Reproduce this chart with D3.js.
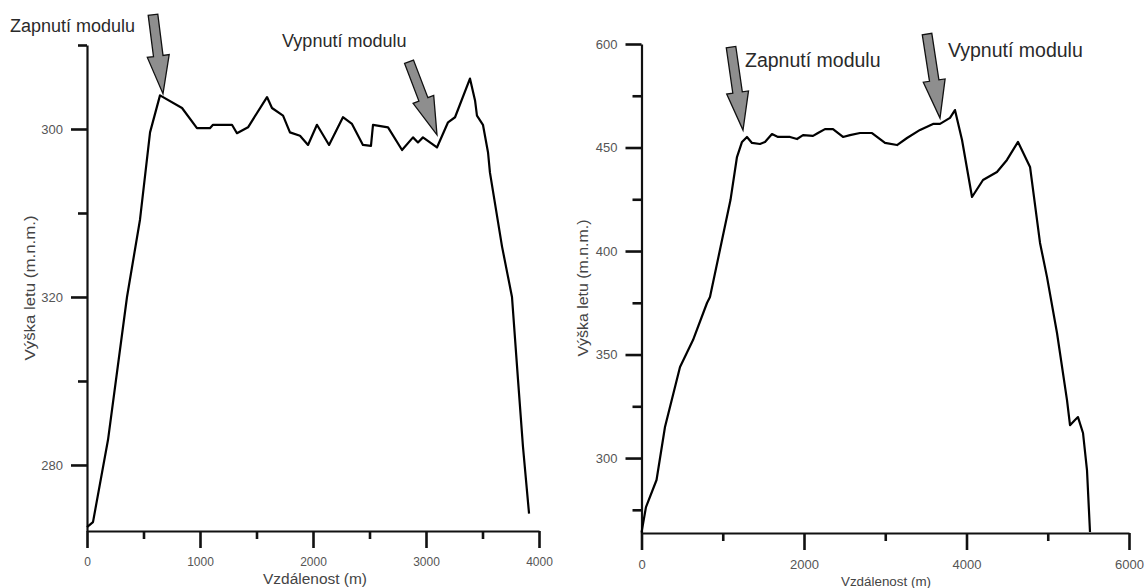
<!DOCTYPE html>
<html>
<head>
<meta charset="utf-8">
<script src="https://cdn.jsdelivr.net/npm/d3@7/dist/d3.min.js"></script>
<style>
  body { margin: 0; background: #fff; }
  svg { display: block; font-family: "Liberation Sans", Arial, sans-serif; }
</style>
</head>
<body>
<script>
// left profile: distance (m) and flight altitude
var leftDist = [0, 53, 186, 354, 469, 558, 646, 841, 973, 1088, 1115, 1283, 1327, 1425,
    1593, 1637, 1735, 1796, 1885, 1956, 2035, 2142, 2265, 2345, 2442, 2513, 2531, 2664,
    2788, 2885, 2929, 2973, 3097, 3195, 3257, 3389, 3434, 3451, 3504, 3549, 3566, 3673,
    3761, 3814, 3858, 3912];
var leftAlt = [276.3, 276.6, 281.5, 290.0, 294.6, 299.8, 302.0, 301.25, 300.05, 300.05, 300.25, 300.25, 299.75, 300.1,
    301.9, 301.25, 300.8, 299.8, 299.6, 299.05, 300.25, 299.05, 300.7, 300.3, 299.05, 299.0, 300.25, 300.1,
    298.75, 299.5, 299.2, 299.5, 298.9, 300.4, 300.7, 303.0, 301.7, 300.8, 300.25, 298.6, 297.4, 293.0,
    290.0, 285.1, 281.1, 277.1];

// right profile
var rightDist = [0, 55, 185, 289, 474, 634, 806, 843, 991, 1095, 1175, 1237, 1298, 1360, 1458, 1520,
    1606, 1680, 1828, 1914, 1988, 2111, 2172, 2258, 2357, 2480, 2566, 2689, 2837, 2997, 3145, 3268,
    3428, 3588, 3674, 3797, 3858, 3945, 4068, 4203, 4375, 4498, 4634, 4782, 4905, 4991, 5114, 5237,
    5274, 5335, 5372, 5434, 5483, 5520];
var rightAlt = [264, 276.3, 289.4, 315.0, 344.0, 357.0, 374.9, 377.8, 405.3, 424.6, 445.4, 452.7, 455.1, 452.2, 451.7, 452.7,
    456.5, 455.1, 455.1, 454.1, 456.0, 455.6, 457.0, 458.9, 458.9, 455.1, 456.0, 457.0, 457.0, 452.2, 451.2, 454.6,
    458.5, 461.4, 461.4, 464.3, 468.1, 453.6, 426.1, 434.3, 438.2, 444.0, 452.7, 440.6, 403.9, 387.4, 360.4, 328.0,
    315.9, 318.4, 319.8, 312.1, 294.2, 264.3];

// ticks and labels (labels as printed in the original)
var leftXTicks = [0, 1000, 2000, 3000, 4000];
var leftXMinor = [500, 1500, 2500, 3500];
var leftYTicks = [300, 290, 280];
var leftYLabels = ["300", "320", "280"];
var leftYMinor = [305, 295, 285];

var rightXTicks = [0, 2000, 4000, 6000];
var rightXMinor = [1000, 3000, 5000];
var rightYTicks = [500, 450, 400, 350, 300];
var rightYLabels = ["600", "450", "400", "350", "300"];
var rightYMinor = [475, 425, 375, 325, 275];

var xTitle = "Vzdálenost (m)";
var yTitle = "Výška letu (m.n.m.)";

// annotations: [text, tail dist, tail alt, tip dist, tip alt, text dist, text alt]
var leftNotes = [
    ["Zapnutí modulu", 584, 306.8, 673, 302.1, -681, 305.77],
    ["Vypnutí modulu", 2850, 304.0, 3097, 299.65, 1726, 304.88]
];
var rightNotes = [
    ["Zapnutí modulu", 1102, 498.5, 1249, 458.4, 1274, 488.9],
    ["Vypnutí modulu", 3514, 504.8, 3674, 464.2, 3772, 493.7]
];

var width = 1147, height = 588;
var svg = d3.select("body").append("svg")
    .attr("width", width)
    .attr("height", height);

function arrowPath(tx, ty, px, py) {
    var dx = px - tx, dy = py - ty, len = Math.sqrt(dx * dx + dy * dy);
    var ux = dx / len, uy = dy / len, nx = -uy, ny = ux;
    var sw = 4.8, hw = 11, hl = 38;
    var hx = px - ux * hl, hy = py - uy * hl;
    var pts = [
        [tx + nx * sw, ty + ny * sw], [hx + nx * sw, hy + ny * sw], [hx + nx * hw, hy + ny * hw],
        [px, py],
        [hx - nx * hw, hy - ny * hw], [hx - nx * sw, hy - ny * sw], [tx - nx * sw, ty - ny * sw]
    ];
    return "M" + pts.map(function(p){ return p[0].toFixed(1) + "," + p[1].toFixed(1); }).join("L") + "Z";
}

function drawPanel(p) {
    var g = svg.append("g");
    var x = d3.scaleLinear().domain(p.xDomain).range(p.xRange);
    var y = d3.scaleLinear().domain(p.yDomain).range(p.yRange);
    var base = p.yRange[0];

    // y axis
    var ya = g.append("g")
        .attr("transform", "translate(" + p.xRange[0] + ",0)")
        .call(d3.axisLeft(y).tickValues(p.yTicks).tickSize(16).tickSizeOuter(0).tickPadding(8)
            .tickFormat(function(d, i){ return p.yLabels[i]; }));
    g.append("g")
        .attr("transform", "translate(" + p.xRange[0] + ",0)")
        .call(d3.axisLeft(y).tickValues(p.yMinor).tickSize(9).tickFormat(""))
        .select(".domain").remove();

    // x axis
    var xa = g.append("g")
        .attr("transform", "translate(0," + base + ")")
        .call(d3.axisBottom(x).tickValues(p.xTicks).tickSize(17).tickSizeOuter(0).tickPadding(p.xPad)
            .tickFormat(d3.format("d")));
    g.append("g")
        .attr("transform", "translate(0," + base + ")")
        .call(d3.axisBottom(x).tickValues(p.xMinor).tickSize(8).tickFormat(""))
        .select(".domain").remove();

    g.selectAll(".domain").attr("stroke", "#111").attr("stroke-width", 2.2);
    g.selectAll(".tick line").attr("stroke", "#111").attr("stroke-width", 2.6);
    ya.selectAll("text").attr("font-size", 13).attr("fill", "#555").attr("font-family", null);
    xa.selectAll("text").attr("font-size", p.xFont).attr("fill", "#555").attr("font-family", null);

    // axis titles
    g.append("text")
        .attr("x", p.xTitlePos[0]).attr("y", p.xTitlePos[1])
        .attr("text-anchor", "middle")
        .attr("font-size", p.xTitleFont)
        .attr("textLength", p.xTitleLen).attr("lengthAdjust", "spacingAndGlyphs")
        .attr("fill", "#444")
        .text(xTitle);
    g.append("text")
        .attr("transform", "translate(" + p.yTitlePos[0] + "," + p.yTitlePos[1] + ") rotate(-90)")
        .attr("text-anchor", "middle")
        .attr("dy", "0.35em")
        .attr("font-size", 14)
        .attr("textLength", p.yTitleLen).attr("lengthAdjust", "spacingAndGlyphs")
        .attr("fill", "#444")
        .text(yTitle);

    // profile line
    var line = d3.line()
        .x(function(d){ return x(d[0]); })
        .y(function(d){ return y(d[1]); });
    g.append("path")
        .datum(d3.zip(p.dist, p.alt))
        .attr("d", line)
        .attr("fill", "none")
        .attr("stroke", "#000")
        .attr("stroke-width", 2.2)
        .attr("stroke-linejoin", "round");

    // annotations
    p.notes.forEach(function(n) {
        g.append("path")
            .attr("d", arrowPath(x(n[1]), y(n[2]), x(n[3]), y(n[4])))
            .attr("fill", "#8e8e8e")
            .attr("stroke", "#111")
            .attr("stroke-width", 1.3)
            .attr("stroke-linejoin", "miter");
        g.append("text")
            .attr("x", x(n[5])).attr("y", y(n[6]))
            .attr("font-size", p.noteFont)
            .attr("fill", "#2a2a2a")
            .text(n[0]);
    });
}

drawPanel({
    dist: leftDist, alt: leftAlt,
    xDomain: [0, 4000], xRange: [87, 539],
    yDomain: [276.07, 305], yRange: [531, 45],
    xTicks: leftXTicks, xMinor: leftXMinor,
    yTicks: leftYTicks, yLabels: leftYLabels, yMinor: leftYMinor,
    xPad: 9, xFont: 12,
    xTitlePos: [315, 584], xTitleFont: 14, xTitleLen: 104,
    yTitlePos: [30, 288], yTitleLen: 145,
    notes: leftNotes, noteFont: 18
});

drawPanel({
    dist: rightDist, alt: rightAlt,
    xDomain: [0, 6000], xRange: [641.5, 1129],
    yDomain: [263.8, 500], yRange: [533, 44],
    xTicks: rightXTicks, xMinor: rightXMinor,
    yTicks: rightYTicks, yLabels: rightYLabels, yMinor: rightYMinor,
    xPad: 10, xFont: 13,
    xTitlePos: [886, 586], xTitleFont: 12.5, xTitleLen: 90,
    yTitlePos: [583, 288], yTitleLen: 137,
    notes: rightNotes, noteFont: 19.5
});
</script>
</body>
</html>
